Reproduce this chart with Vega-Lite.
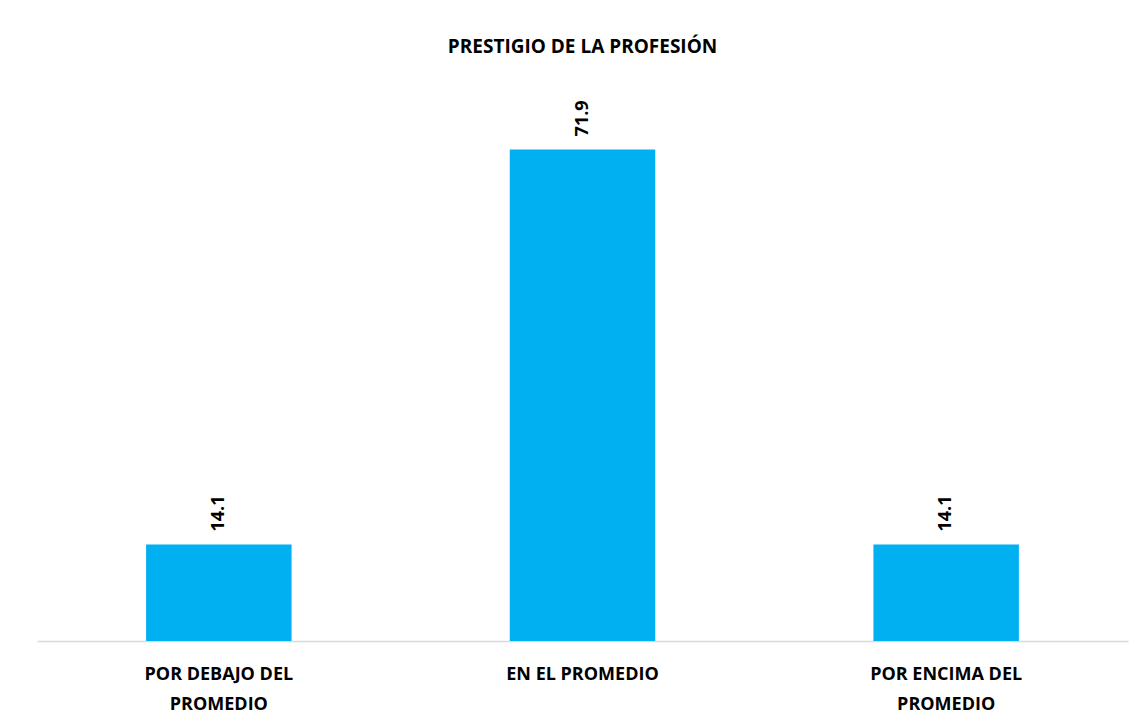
{
  "$schema": "https://vega.github.io/schema/vega-lite/v6.json",
  "autosize": {"type": "none"},
  "padding": {"left": 37, "top": 94, "right": 16, "bottom": 86},
  "width": 1091,
  "height": 547,
  "background": "white",
  "title": {
    "text": "PRESTIGIO DE LA PROFESIÓN",
    "font": "Open Sans",
    "fontSize": 19,
    "fontWeight": "bold",
    "color": "#000000",
    "anchor": "middle",
    "baseline": "bottom",
    "offset": 18
  },
  "data": {
    "values": [
      {"categoria": "POR DEBAJO DEL PROMEDIO", "valor": 14.1},
      {"categoria": "EN EL PROMEDIO", "valor": 71.9},
      {"categoria": "POR ENCIMA DEL PROMEDIO", "valor": 14.1}
    ]
  },
  "encoding": {
    "x": {
      "field": "categoria",
      "type": "nominal",
      "sort": null,
      "scale": {"paddingInner": 0.6, "paddingOuter": 0.3},
      "axis": {
        "title": null,
        "labelAngle": 0,
        "labelFont": "Open Sans",
        "labelFontSize": 18,
        "labelFontWeight": "bold",
        "labelColor": "#000000",
        "labelPadding": 24,
        "labelLineHeight": 30,
        "labelBaseline": "top",
        "labelExpr": "datum.label == 'EN EL PROMEDIO' ? datum.label : [replace(datum.label, ' PROMEDIO', ''), 'PROMEDIO']",
        "ticks": false,
        "domainColor": "#d9d9d9",
        "domainWidth": 1.5
      }
    },
    "y": {
      "field": "valor",
      "type": "quantitative",
      "scale": {"domain": [0, 80], "nice": false},
      "axis": null
    }
  },
  "layer": [
    {"mark": {"type": "bar", "color": "#00B0F0"}},
    {
      "mark": {
        "type": "text",
        "angle": 270,
        "align": "left",
        "baseline": "middle",
        "dx": 13,
        "font": "Open Sans",
        "fontSize": 18,
        "fontWeight": "bold",
        "color": "#000000"
      },
      "encoding": {
        "text": {"field": "valor", "type": "quantitative", "format": ".1f"}
      }
    }
  ],
  "config": {"view": {"stroke": null}}
}
